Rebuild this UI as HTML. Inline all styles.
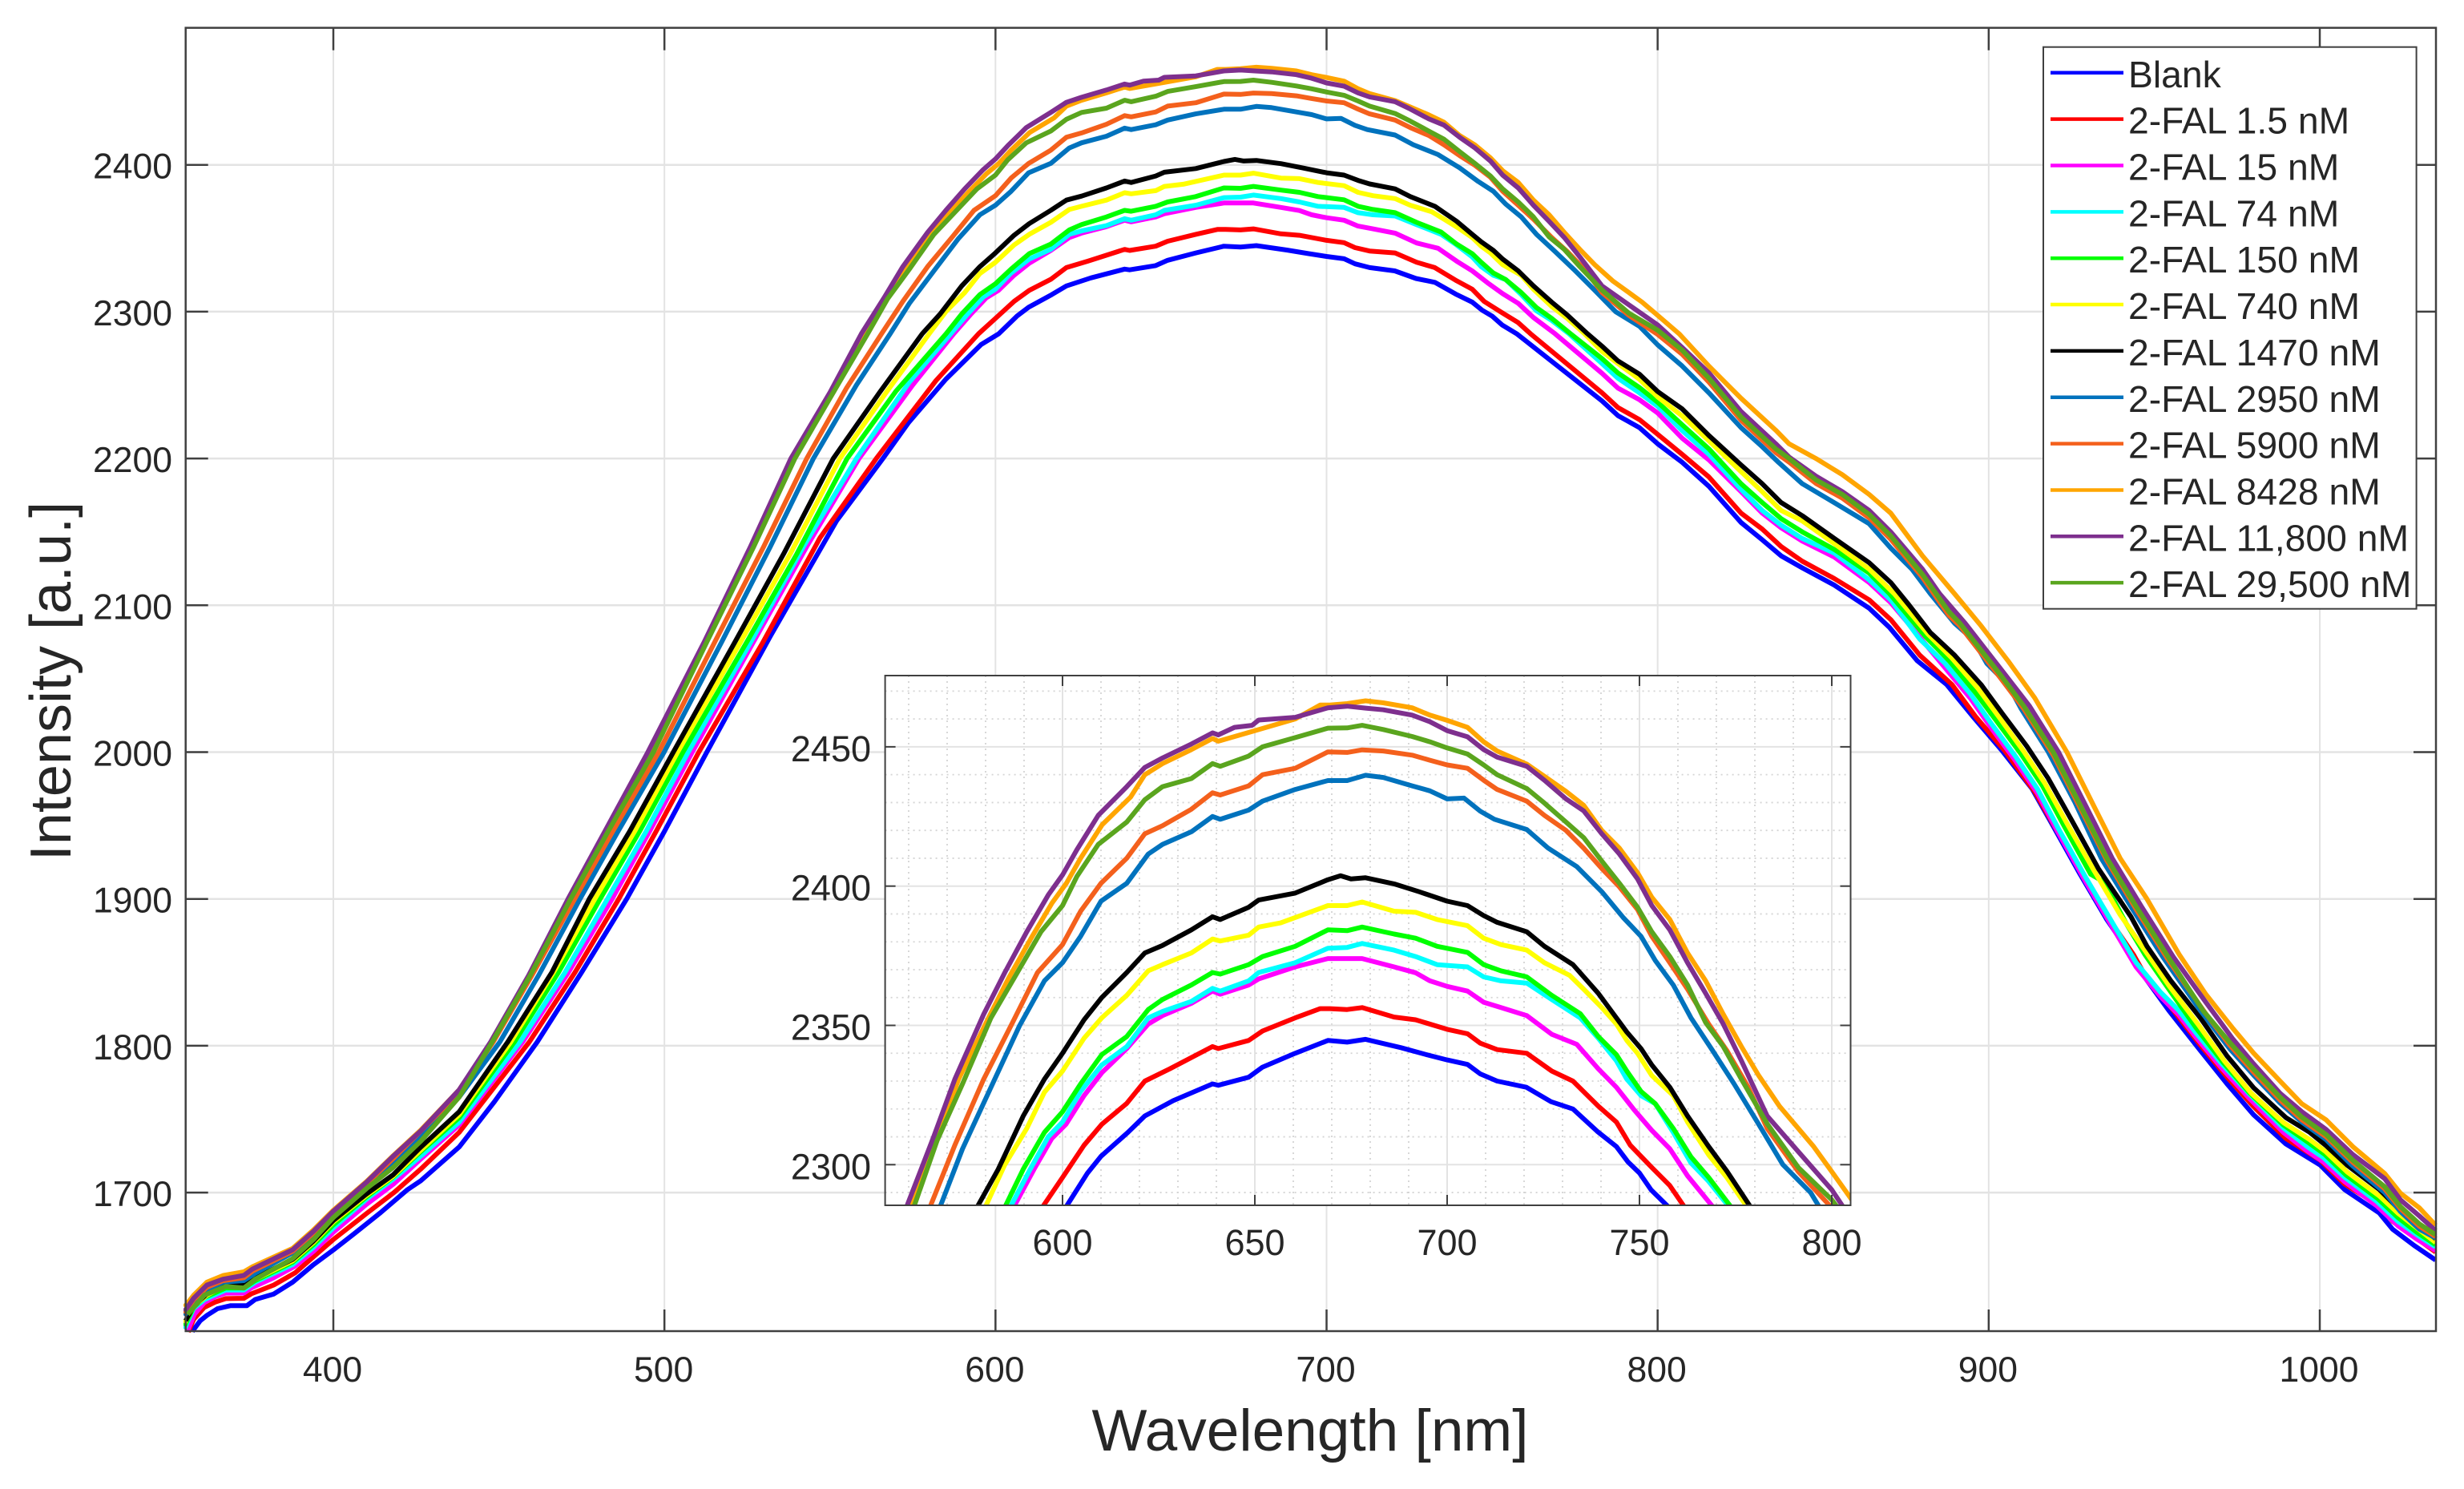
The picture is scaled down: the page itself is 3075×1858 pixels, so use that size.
<!DOCTYPE html>
<html lang="en">
<head>
<meta charset="utf-8">
<title>Intensity vs Wavelength</title>
<style>
html,body{margin:0;padding:0;background:#fff;width:3075px;height:1858px;overflow:hidden}
svg{display:block}
text{font-family:"Liberation Sans",Arial,sans-serif;fill:#262626}
</style>
</head>
<body>
<svg id="chart" xmlns="http://www.w3.org/2000/svg" width="3075" height="1858" viewBox="0 0 3075 1858">
<defs>
<clipPath id="main-clip"><rect x="229" y="34" width="2814" height="1630"></rect></clipPath>
<clipPath id="inset-clip"><rect x="1105" y="843" width="1205" height="661"></rect></clipPath>
</defs>
<rect x="0" y="0" width="3075" height="1858" fill="#fff"></rect>
<g id="main-grid"></g>
<g id="main-curves" clip-path="url(#main-clip)"></g>
<g id="main-axes"></g>
<text x="1635" y="1810" font-size="73" text-anchor="middle">Wavelength [nm]</text>
<text transform="translate(88,850) rotate(-90)" font-size="72" text-anchor="middle">Intensity [a.u.]</text>
<g id="inset"></g>
<g id="legend"></g>
</svg>
<script>
const seriesLabels = ["Blank","2-FAL 1.5 nM","2-FAL 15 nM","2-FAL 74 nM","2-FAL 150 nM","2-FAL 740 nM","2-FAL 1470 nM","2-FAL 2950 nM","2-FAL 5900 nM","2-FAL 8428 nM","2-FAL 11,800 nM","2-FAL 29,500 nM"];
const seriesColors = ["#0000ff","#ff0000","#ff00ff","#00ffff","#00ff00","#ffff00","#000000","#0072bd","#f4601c","#ffa500","#7e2f8e","#5aa51e"];
const mainXTicks = [400,500,600,700,800,900,1000];
const mainYTicks = [1700,1800,1900,2000,2100,2200,2300,2400];
const insetXTicks = [600,650,700,750,800];
const insetYTicks = [2300,2350,2400,2450];
const insetXMinor = [560,570,580,590,610,620,630,640,660,670,680,690,710,720,730,740,760,770,780,790];
const insetYMinor = [2290,2310,2320,2330,2340,2360,2370,2380,2390,2410,2420,2430,2440,2460,2470];

const blank = [[357.4,1605.4],[359.8,1612.7],[361.8,1616.3],[365,1620.9],[369,1623],[373.9,1623],[376.4,1627.2],[382,1630.9],[387.7,1639],[394,1650.9],[400,1660.9],[406.2,1671.8],[414.3,1686.4],[422.3,1701.8],[426.4,1708],[438,1731],[448.7,1762],[461.6,1802.6],[475,1850],[488.6,1900],[500,1946],[512.8,2000],[532,2079],[552,2157.5],[566,2200],[573.8,2224.6],[585,2254],[595.6,2277.5],[601,2285],[606.5,2297],[610,2303],[617,2311.6],[621.4,2317.5],[628.8,2323],[639,2329],[640.5,2328.5],[648.4,2331.4],[652,2335],[660.5,2340],[669,2344.6],[674,2344],[678.8,2345],[688,2342],[694.6,2339.5],[700,2337.6],[705.3,2336],[708.6,2332.6],[713,2330],[720.6,2327.8],[727,2322.6],[732.7,2320],[739,2312],[744,2306.5],[747,2301],[750,2297],[753,2291],[757.4,2285],[783.2,2239.2],[788,2229.2],[794.5,2221],[800,2210],[807.4,2197.4],[815.5,2181],[825.2,2156.4],[831.6,2144.6],[837.3,2133.7],[843.7,2125.5],[853.4,2113.7],[863.9,2098],[870,2085],[878.4,2062.3],[887.3,2046],[895.3,2024],[904.2,2000.5],[913.1,1975],[919.5,1949.5],[927.6,1916.8],[935.7,1885.8],[942.9,1862.2],[947.4,1845.8],[954.4,1824],[963.9,1796.8],[972,1774],[980,1753],[989.8,1733],[1000.2,1718.6],[1007.5,1702],[1018,1686],[1022,1675],[1028.5,1664],[1035,1654]];

const fal1p5 = [[356.2,1605],[357.8,1613.6],[361,1621.8],[364.3,1625.4],[367.5,1627.8],[373,1628],[375.2,1631],[382,1637],[388.5,1645.4],[394,1656.3],[400,1668],[410.2,1686],[418.3,1700],[426.4,1716],[438,1741],[459.2,1802.6],[473,1850],[486.2,1900],[497.5,1946],[510.4,2000],[529.8,2075],[547,2146],[564,2200],[582,2253],[594.9,2285],[600,2295.4],[605.6,2307],[610.2,2314.5],[616.7,2322],[621.4,2330],[627.9,2334.4],[639,2342.4],[640.5,2341.7],[648.4,2344.6],[652,2348],[660.5,2352.7],[667,2356],[669.5,2356],[674,2355.7],[677.9,2356.4],[686.2,2353],[691.8,2352],[700,2348.6],[705.3,2347],[708.6,2343.6],[713,2341.3],[720.7,2340],[727.2,2333.6],[732.7,2330],[739.3,2321],[744,2315.3],[747.6,2307],[753.2,2299],[757.9,2292.5],[761.6,2285],[783.2,2244.7],[788,2234.7],[794.5,2226.5],[800,2216.5],[807.4,2202.8],[815.5,2187.4],[825.2,2162.8],[831.6,2151.9],[837.3,2140],[843.7,2130],[853.4,2118.2],[863.9,2103.7],[870.5,2090],[879.2,2066],[888.9,2046],[896.1,2024],[905,2000.5],[913.9,1973],[920.3,1947.7],[928.4,1916.8],[936.5,1885.8],[943.7,1862.2],[947.8,1845.8],[955.8,1824],[963.9,1800.5],[972,1778.6],[980,1758.6],[989.8,1736.8],[1000.2,1722],[1007.5,1705.8],[1018,1691],[1022,1680.4],[1027.7,1671.3],[1035,1659.5]];

const fal15 = [[356,1606],[358,1617],[361,1625],[364.3,1629],[367.5,1631.5],[373,1631.5],[375.2,1635],[382,1642],[388.5,1650],[394,1660],[400,1673],[410,1692],[418.3,1706],[426,1722],[438,1746],[457.2,1802.6],[471,1850],[484.2,1900],[495.5,1946],[508.4,2000],[526.9,2075],[543,2140],[558.8,2200],[575,2250],[587.4,2285],[592.6,2298.4],[597.2,2309.4],[600.9,2314.5],[605.6,2324.8],[610.2,2333],[616.7,2341.7],[622.3,2350.5],[626,2353.5],[633.5,2357.9],[639,2362.3],[641,2361.2],[648.4,2364.5],[651,2366.7],[660.5,2371],[669,2374],[673,2374],[677.9,2374],[686.2,2371],[691.8,2368.9],[695.5,2366],[700,2364],[705.3,2362.3],[709.5,2358.3],[714,2356.4],[720.7,2353.5],[727.2,2346.8],[733.7,2343.2],[739.3,2334.4],[744,2327.8],[748.6,2319.7],[753.2,2312.3],[757.9,2305.7],[762.5,2296],[769,2285],[783.2,2258],[788,2248],[794.5,2240],[800,2231],[807.4,2213.8],[815.5,2199],[825.2,2177.4],[831.6,2162.8],[837.3,2152.8],[843.7,2143.7],[853.4,2132.8],[863.9,2115.5],[870.4,2101.8],[875.2,2089],[886.8,2057.5],[894.5,2036.6],[901,2015.7],[908.2,1993.8],[914.7,1972],[921.1,1944.7],[929.2,1912],[937.3,1881],[944.5,1853.7],[951.8,1833.7],[957.4,1821],[962.3,1806.6],[970.4,1784.7],[978.5,1764.7],[989,1741],[996.2,1728.3],[1001,1721],[1007.5,1707.4],[1017.2,1691],[1023.6,1677.4],[1029.3,1668.3],[1035,1660.5]];

const fal74 = [[355,1607],[357.8,1621],[361,1627],[367.5,1633.6],[373,1633.6],[376.4,1639],[387.7,1651],[394,1662.7],[400,1676],[410,1695.5],[418,1709],[426,1724],[438,1748],[456.4,1802.6],[470,1850],[482.8,1900],[494.5,1946],[507.2,2000],[526.1,2075],[542,2140],[558,2200],[574,2252],[586.5,2285],[591.6,2298.4],[596.3,2310],[600,2315.3],[604.7,2326.3],[610.2,2335.8],[616.7,2342.4],[622.3,2352.7],[626,2355],[633.5,2358.6],[639,2363.3],[641,2362.3],[648.4,2366],[651,2369],[660.5,2372.5],[669,2377.7],[674,2378],[677.9,2379.4],[686.2,2377],[691.8,2374.7],[697.4,2371.8],[705.3,2371],[709.5,2367.4],[714,2366],[720.7,2365.2],[727.2,2359.3],[734.6,2352.7],[739.3,2345.4],[744,2337.3],[746.7,2330.7],[750.4,2324.8],[754.1,2321.9],[758.8,2311.6],[763.4,2300.6],[768,2294],[773.2,2285],[783.2,2264.7],[788,2254.7],[794.5,2244.7],[800,2235.6],[807.4,2219],[815.5,2202.8],[825.2,2179],[831.6,2164.6],[837.3,2154.6],[843.7,2145.5],[853.4,2135.5],[863.9,2117.3],[870.4,2103.7],[879.2,2076.9],[886.8,2060.5],[894.5,2039.6],[901,2018.7],[908.2,1996.8],[914.7,1975],[921.1,1947.7],[929.2,1915],[937.3,1884],[944.5,1856.7],[951.8,1836.7],[957.4,1824],[962.3,1809.6],[970.4,1787.7],[978.5,1767.7],[989,1744],[996.2,1731.3],[1001,1724],[1007.5,1710.4],[1017.2,1694],[1023.6,1680.4],[1029.3,1671.3],[1035,1663]];

const fal150 = [[355,1609],[357.8,1622],[361,1628.5],[367.5,1635],[373,1635],[376.4,1640],[387.7,1652.5],[394,1664.5],[400,1678],[410,1697],[418,1710.5],[426,1727],[438,1751],[454.7,1802.6],[468,1850],[480.6,1900],[492.5,1946],[505.6,2000],[524.9,2075],[540,2135],[555.2,2200],[570,2246],[585.1,2285],[589.8,2298.4],[595.3,2311.6],[600,2319],[604.7,2329],[610.2,2339.5],[616.7,2346],[622.3,2355.7],[626,2359.3],[633.5,2364.5],[639,2369],[641,2368.4],[648.4,2371.8],[652,2374.7],[660.5,2378.4],[669,2384.3],[674,2384],[677.9,2385.3],[686.2,2382.8],[691.8,2381.3],[697.4,2378.4],[705.3,2376.2],[709.5,2371.8],[714,2369.6],[720.7,2367.4],[727.2,2360.8],[734.6,2354.2],[739.3,2346],[744,2339.5],[746.7,2333.6],[750.4,2326.3],[754.1,2321.9],[758.8,2313],[763.4,2302.8],[768,2295.4],[773.7,2285],[783.2,2268],[788,2258.3],[794.5,2248.3],[800,2238.3],[807.4,2222.9],[815.5,2206.5],[825.2,2182.8],[831.6,2170],[837.3,2159],[843.7,2150],[853.4,2138],[863.9,2121.9],[870,2108],[880.9,2078.7],[888,2062.3],[896,2040.5],[902.6,2020.5],[909.8,1998.7],[916.3,1976.8],[922.8,1949.5],[930.8,1916.8],[934.9,1911.5],[941.6,1883],[947.2,1862],[953.8,1840.5],[962.7,1812],[970.8,1788.6],[978.9,1767.7],[989,1746],[996.6,1734],[1001.5,1726],[1007.9,1712],[1017.6,1695.8],[1023.6,1683],[1029.3,1673],[1035,1664.4]];

const fal740 = [[355,1611],[357.8,1622.5],[361.8,1630],[366.7,1636],[373,1637],[376.4,1641],[387.7,1653.5],[394,1666],[400,1680],[410,1698],[418,1711],[426,1728],[438,1753],[453.6,1802.6],[466.5,1850],[479,1900],[491,1946],[504,2000],[523,2075],[538,2135],[553,2200],[567,2245],[580,2285],[585,2300],[590.7,2313],[595.3,2326],[600,2333.6],[605.6,2345.4],[610.2,2352.7],[616.7,2360.8],[622.3,2369.6],[626,2371.8],[633.5,2376],[639,2381],[641,2380.3],[648.4,2382.4],[651,2385.3],[656.7,2386.8],[669,2393],[674,2393],[677.9,2394.3],[686.2,2391],[691.8,2390.6],[697.4,2388],[705.3,2385.8],[709.5,2381.3],[714,2379],[720.7,2377],[725.3,2372.5],[731.8,2368],[735.5,2363],[740.2,2356.4],[744,2350.5],[746.7,2344.6],[749.5,2340],[753.2,2332],[758.8,2324.8],[762.5,2315.3],[768,2303.5],[772.7,2295.4],[777.9,2285],[783.2,2272.9],[788,2264.7],[794.5,2254],[800,2242],[807.4,2229],[815.5,2212],[825.2,2191],[831.6,2177.4],[837.3,2164.6],[843.7,2157.4],[853.4,2142],[863.9,2124.6],[871.5,2107.8],[881.6,2080.5],[888.9,2064],[896.9,2043],[903.4,2023],[910.6,2000.5],[917,1978.6],[923.9,1950.4],[932,1918.6],[939.6,1889.5],[947.8,1863],[954.6,1840.5],[963.1,1815],[971.2,1789.6],[979.3,1767.7],[989,1747.7],[997,1736],[1001.9,1727.7],[1008.3,1714],[1018,1697.7],[1023.6,1686],[1029.3,1676],[1035,1666]];

const fal1470 = [[355.4,1612.7],[357.8,1622.7],[361.8,1630.9],[366.7,1637],[373,1638],[376.4,1641.8],[387.7,1654.5],[394,1667],[400,1681],[410,1699],[418,1712],[426,1730],[438,1755],[452.7,1802.6],[466,1850],[477.3,1900],[489.5,1946],[502.7,2000],[521.3,2075],[536,2135],[551,2200],[565,2245],[577.9,2285],[583.3,2298.4],[589.8,2317.5],[595.3,2330.7],[600,2340],[605.6,2352],[610.2,2360],[616.7,2369],[621.4,2376],[626,2378.7],[633.5,2384.3],[639,2389],[641,2388],[648.4,2392.4],[651,2395],[660.5,2397.5],[669,2402.3],[672.3,2403.7],[675,2402.6],[678.8,2403],[686.2,2400.8],[692.7,2398],[700,2394.6],[705.3,2393],[709.5,2389.4],[713,2387],[720.7,2383.6],[725.3,2378.4],[732.7,2371.8],[739.3,2361.5],[744,2352.7],[746.7,2347.6],[750.4,2341.7],[753.2,2335.8],[757.9,2327.8],[762.5,2317.5],[768,2306.5],[772.7,2297.7],[778.8,2285],[783.2,2276.5],[788,2266.5],[794.5,2257.4],[800,2245.6],[807.4,2233.8],[815.5,2215.6],[825.2,2195.6],[831.6,2182.8],[837.3,2170],[843.7,2161],[853.4,2145.5],[863.9,2129],[870.4,2115.5],[876,2100],[882.4,2081.4],[889.7,2066],[897.7,2046],[904.2,2026],[911.5,2004],[917.9,1982.3],[925.2,1953],[933.2,1920.4],[943,1887.8],[947.8,1867.8],[955.1,1844],[964,1818.7],[972,1793],[980,1771.4],[989.8,1751],[997,1741],[1001.9,1732],[1008.3,1718.6],[1018,1702],[1023.6,1689.5],[1029.3,1678.6],[1035,1668.6]];

const fal2950 = [[355,1616],[357.8,1626],[361.8,1634],[366.7,1639],[373,1640],[376.4,1645],[387.7,1659],[394,1671],[400,1685],[410,1704],[418,1719],[426,1738],[438,1765],[450.3,1802.6],[462,1848],[474.5,1900],[486,1946],[499.9,2000],[517.3,2075],[532,2140],[545,2200],[558,2250],[568.2,2285],[574,2305.7],[581.4,2327.8],[588.8,2349.8],[595.3,2366],[600,2372.5],[604.7,2382],[610,2394.6],[616.7,2401],[622.3,2411.5],[626,2415],[633.5,2419.5],[639,2425],[641,2424],[648.4,2427.3],[652,2430.5],[660.5,2434.7],[669,2437.9],[674,2437.9],[678.8,2439.8],[683.4,2439],[690.9,2436],[695.5,2434.2],[700,2431.3],[704.4,2431.6],[708.6,2426.9],[712.3,2424],[720.7,2420.3],[726.2,2413.7],[733.7,2407],[740.2,2398],[745.8,2388.7],[750.4,2382],[754.1,2373.3],[758.8,2364.5],[763.4,2352.7],[769,2341],[774.6,2329],[781,2314.5],[787.3,2300],[794.5,2290],[800,2277.4],[807.4,2263],[815.5,2244.7],[825.2,2221],[831.6,2208],[836.5,2197.4],[843.7,2182.8],[851.8,2172],[859.9,2161],[863.9,2155.5],[870.4,2139],[876.8,2124.6],[882.4,2107.8],[889.7,2087.8],[895.4,2076.4],[899.4,2060.5],[905.8,2046],[909.8,2029.6],[917.9,2000.5],[926,1966],[934,1927.7],[942.9,1895],[952.6,1860.4],[963.9,1824],[972.8,1798],[980,1780],[988,1761],[994.6,1748],[1001.9,1736],[1010,1718],[1019.6,1700],[1024.4,1687],[1030.1,1675],[1035,1669]];

const fal5900 = [[355,1617.5],[357.8,1627],[361.8,1635.5],[366.7,1640],[373,1642],[375.6,1646.5],[387.7,1660],[394,1672.5],[400,1686.3],[410,1706],[418,1723],[426,1741],[438,1768],[448.3,1802.6],[460,1848],[472.9,1900],[484.4,1946],[498.3,2000],[515.2,2075],[530,2140],[543,2200],[555,2248],[565.6,2285],[572,2307],[579.5,2330.7],[587,2351],[593.5,2369],[600,2379],[604.7,2391],[610,2401],[616.7,2410],[621.4,2418.8],[626,2421.7],[633.5,2427.6],[639,2433.5],[641,2432.7],[648.4,2436],[652,2440],[660.5,2442.3],[669,2448.2],[674,2448],[677.9,2448.9],[683.4,2448.5],[690.9,2447],[695.5,2445.2],[700,2443.5],[705.3,2442.3],[709.5,2438],[713,2434.7],[720.7,2430.5],[725.3,2425.4],[730.9,2420],[735.5,2413.6],[740.2,2406.3],[744.8,2399.7],[749.5,2391.6],[753.2,2382],[757.9,2372.5],[762.5,2363],[768,2350.5],[772.7,2341],[778.3,2327.8],[783.2,2313],[791.3,2297.5],[800,2284.5],[807.4,2271],[815.5,2252],[825.2,2226],[835.7,2204],[839.7,2197.5],[847.8,2183],[855.8,2173],[863.9,2159.5],[870.4,2145],[880,2119],[888,2093],[891.3,2086],[903.4,2051],[910.6,2029.5],[919.5,1998],[927.6,1962],[935.7,1926],[944.5,1893],[954.2,1858.5],[965.5,1822],[972.8,1800.5],[980,1782],[988,1763],[994.6,1749.5],[1001.9,1738],[1010,1720.5],[1019.6,1702.5],[1024.4,1689],[1030.1,1677],[1035,1670]];

const fal8428 = [[355,1622],[357.8,1630],[361.8,1639],[366.7,1643.5],[373,1646],[375.6,1649.5],[387.7,1662],[394,1674.5],[400,1688],[410,1707.5],[418,1725],[426.4,1742.5],[438,1770],[447.8,1802.6],[459.3,1848],[471.2,1900],[482.5,1946],[495.5,2000],[512.5,2075],[526.5,2140],[539,2200],[551,2245],[560.5,2285],[567.5,2310],[573,2330.7],[580.5,2352],[586,2367],[591.7,2381],[597.3,2394],[601,2401],[604.7,2410],[610.3,2422],[617.7,2432],[621.4,2440],[626,2444],[633.5,2449],[639,2453],[640.5,2452],[649.3,2455.5],[660.5,2460],[667,2465],[669.5,2465],[674,2465.5],[678.8,2466.5],[683.4,2465.8],[690.9,2464],[695.5,2461.4],[700,2459.5],[705.3,2457],[709.5,2451.8],[713,2448.5],[720.7,2443.8],[725.3,2439.4],[730.9,2434],[735.5,2429],[740.2,2420],[744.8,2413.6],[749.5,2404.8],[753.2,2396],[757.9,2388],[762.5,2376],[767.2,2366],[771.8,2354],[776.5,2342.4],[781,2332],[786.4,2321],[795.3,2306.5],[800,2297.5],[806.6,2284.7],[815.5,2262.9],[825.2,2241],[835.7,2219.2],[839.7,2210],[847.8,2200],[855.8,2189],[863.9,2175.5],[870.4,2162.8],[880,2133.7],[889.7,2107.8],[897.7,2086],[905.8,2062.3],[913.9,2036.9],[923.6,2000],[931.6,1964],[939.7,1927.7],[947.8,1900],[957.5,1862.3],[965.6,1835],[973.6,1812.3],[980,1795],[988,1776],[994.6,1760.4],[1001.9,1749.5],[1010,1731.3],[1019.6,1713],[1024.4,1699.5],[1030.1,1689.5],[1035,1677.7]];

const fal11800 = [[355,1619],[357.8,1628],[361.8,1637],[366.7,1641],[373,1643.6],[375.6,1648],[387.7,1661],[394,1673.6],[400,1687.3],[410,1707],[418,1724.6],[426.4,1742],[438,1770],[447.5,1802.6],[459,1848],[470.9,1900],[482,1946],[495,2000],[512,2075],[526,2140],[538.2,2200],[550,2245],[559.5,2285],[566.5,2310],[572,2330.7],[579.5,2354],[585,2369],[590.7,2383.6],[596.3,2396.8],[600,2404],[603.7,2413],[609.3,2425.4],[616.7,2435.7],[621.4,2442.6],[626,2446],[633.5,2451],[639,2455],[640.5,2454.3],[644.7,2457],[649.3,2457.7],[651,2459.6],[660.5,2460.6],[669,2464],[674,2464.6],[678.8,2463.9],[683.4,2463.3],[690.9,2461.4],[695.5,2459],[700,2455.8],[705.3,2453.6],[709.5,2449],[713,2446.3],[720.7,2443],[725.3,2438],[730.9,2431.3],[735.5,2427],[740.2,2418.8],[744.8,2411.5],[749.5,2402.6],[753.2,2393],[757.9,2384.3],[762.5,2372.5],[767.2,2361.5],[771.8,2350.5],[776.5,2337.3],[783.2,2317.5],[791.3,2304.7],[800,2291],[807.4,2275.6],[815.5,2258.3],[825.2,2232],[835.7,2210],[839.7,2201],[847.8,2188],[855.8,2177.4],[863.9,2164.6],[870.4,2150],[880,2124.6],[885.2,2107.8],[892.9,2087.8],[904.2,2055],[912.3,2031.4],[921.1,2000],[929.2,1964],[937.3,1927.7],[946.1,1895],[955.8,1860.4],[965.6,1829.6],[973.6,1805],[980,1787.7],[988,1767.7],[994.6,1755],[1001.9,1743],[1010,1725.9],[1019.6,1709.5],[1024.4,1695],[1030.1,1684],[1035,1674]];

const fal29500 = [[356,1617],[361,1630],[367.5,1636],[373,1635],[376.4,1641],[387.7,1655],[394,1668],[400,1683],[410,1702.7],[418,1717],[426.4,1735],[438,1765],[448,1802.6],[459.5,1848],[471.7,1900],[483,1946],[496.7,2000],[512.8,2075],[527,2140],[539.4,2200],[551,2245],[561.4,2285],[567.4,2308.7],[574,2329],[581.4,2352.7],[587,2366],[594.4,2383.6],[600,2393],[603.7,2403.4],[609.3,2415],[616.7,2423],[621.4,2431],[626,2435.7],[633.5,2438.6],[639,2444],[641,2443],[648.4,2446.7],[652,2450],[660.5,2453.3],[669,2456.7],[674,2456.8],[677.9,2457.7],[683.4,2456.2],[690.9,2453.7],[695.5,2451.8],[700,2449.6],[705.3,2447.4],[709.5,2443.5],[713,2440],[720.7,2435],[725.3,2429.8],[730.9,2423],[735.5,2417.4],[740.2,2409],[744.8,2401],[749.5,2392.4],[753.2,2383.6],[757.9,2374.7],[762.5,2364.5],[767.2,2351],[771.8,2342.4],[776.5,2330.7],[783.2,2314.7],[791.3,2299],[800,2287.4],[807.4,2273.8],[815.5,2254.7],[825.2,2228.3],[835.7,2206.5],[839.7,2200],[847.8,2185.5],[855.8,2175.5],[863.9,2161.9],[870.4,2147.3],[880,2121],[888,2095.5],[891.3,2087.8],[903.4,2053],[910.6,2031.4],[919.5,2000],[927.6,1964],[935.7,1927.7],[944.5,1895],[954.2,1860.4],[964.7,1824],[972.8,1802.3],[980,1784],[988,1765],[994.6,1751.3],[1001.9,1739.5],[1010,1722],[1019.6,1704],[1024.4,1690.4],[1030.1,1678.6],[1035,1671.3]];

const allSeries = [blank,fal1p5,fal15,fal74,fal150,fal740,fal1470,fal2950,fal5900,fal8428,fal11800,fal29500];
const insetFloor = 2200;

const NS = 'http://www.w3.org/2000/svg';
const INK = '#404040';
const GRID = '#e3e3e3';
const mainBox = {l:231.7,r:3040,t:34.7,b:1661};
const insetBox = {l:1104.6,r:2309.5,t:843,b:1504};
function mainX(nm){return 416+(nm-400)*4.1317;}
function mainY(v){return 205.7+(2400-v)*1.832;}
function insetX(nm){return 1326+(nm-600)*4.8;}
function insetY(v){return 1105.7+(2400-v)*3.476;}
function slug(s){return s.toLowerCase().replace(/[^a-z0-9]+/g,'-').replace(/-+$/,'');}
function node(tag,parent){const n=document.createElementNS(NS,tag);parent.appendChild(n);return n;}
function setLine(n,x1,y1,x2,y2,color,w){n.setAttribute('x1',x1);n.setAttribute('y1',y1);n.setAttribute('x2',x2);n.setAttribute('y2',y2);n.setAttribute('stroke',color);n.setAttribute('stroke-width',w);}
function setLabel(n,x,y,size,anchor,str){n.setAttribute('x',x);n.setAttribute('y',y);n.setAttribute('font-size',size);n.setAttribute('text-anchor',anchor);n.textContent=str;}

const mainGrid = document.getElementById('main-grid');
const mainCurves = document.getElementById('main-curves');
const mainAxes = document.getElementById('main-axes');
const inset = document.getElementById('inset');
const legend = document.getElementById('legend');

mainXTicks.forEach(function(t){
  const g = node('line',mainGrid);
  
  
  setLine(g,mainX(t),mainBox.t,mainX(t),mainBox.b,GRID,2);
});
mainYTicks.forEach(function(t){
  const g = node('line',mainGrid);
  
  
  setLine(g,mainBox.l,mainY(t),mainBox.r,mainY(t),GRID,2.5);
});

allSeries.forEach(function(points,i){
  const p = node('polyline',mainCurves);
  
  
  p.setAttribute('points',points.map(function(d){return mainX(d[0]).toFixed(1)+','+mainY(d[1]).toFixed(1);}).join(' '));
  p.setAttribute('fill','none');
  p.setAttribute('stroke',seriesColors[i]);
  p.setAttribute('stroke-width',6);
  p.setAttribute('stroke-linejoin','round');
});

const mainFrame = node('rect',mainAxes);


mainFrame.setAttribute('x',mainBox.l);
mainFrame.setAttribute('y',mainBox.t);
mainFrame.setAttribute('width',mainBox.r-mainBox.l);
mainFrame.setAttribute('height',mainBox.b-mainBox.t);
mainFrame.setAttribute('fill','none');
mainFrame.setAttribute('stroke',INK);
mainFrame.setAttribute('stroke-width',2.5);

mainXTicks.forEach(function(t){
  const a = node('line',mainAxes);
  
  
  setLine(a,mainX(t),mainBox.b,mainX(t),mainBox.b-27,INK,2.5);
  const b = node('line',mainAxes);
  
  
  setLine(b,mainX(t),mainBox.t,mainX(t),mainBox.t+28,INK,2.5);
  const lab = node('text',mainAxes);
  
  
  setLabel(lab,mainX(t)-1,1724,44.5,'middle',String(t));
});
mainYTicks.forEach(function(t){
  const a = node('line',mainAxes);
  
  
  setLine(a,mainBox.l,mainY(t),mainBox.l+28,mainY(t),INK,2.5);
  const b = node('line',mainAxes);
  
  
  setLine(b,mainBox.r,mainY(t),mainBox.r-28,mainY(t),INK,2.5);
  const lab = node('text',mainAxes);
  
  
  setLabel(lab,215,mainY(t)+17,44.5,'end',String(t));
});

const insetBg = node('rect',inset);


insetBg.setAttribute('x',insetBox.l);
insetBg.setAttribute('y',insetBox.t);
insetBg.setAttribute('width',insetBox.r-insetBox.l);
insetBg.setAttribute('height',insetBox.b-insetBox.t);
insetBg.setAttribute('fill','#fff');

insetXMinor.forEach(function(t){
  const g = node('line',inset);
  
  
  setLine(g,insetX(t),insetBox.t,insetX(t),insetBox.b,'#d4d4d4',1.8);
  g.setAttribute('stroke-dasharray','2 5');
});
insetYMinor.forEach(function(t){
  const g = node('line',inset);
  
  
  setLine(g,insetBox.l,insetY(t),insetBox.r,insetY(t),'#d4d4d4',1.8);
  g.setAttribute('stroke-dasharray','2 5');
});
insetXTicks.forEach(function(t){
  const g = node('line',inset);
  
  
  setLine(g,insetX(t),insetBox.t,insetX(t),insetBox.b,GRID,2);
});
insetYTicks.forEach(function(t){
  const g = node('line',inset);
  
  
  setLine(g,insetBox.l,insetY(t),insetBox.r,insetY(t),GRID,2);
});

const insetCurves = node('g',inset);


insetCurves.setAttribute('clip-path','url(#inset-clip)');
allSeries.forEach(function(points,i){
  const p = node('polyline',insetCurves);
  
  
  const visible = points.filter(function(d){return d[1]>=insetFloor;});
  p.setAttribute('points',visible.map(function(d){return insetX(d[0]).toFixed(1)+','+insetY(d[1]).toFixed(1);}).join(' '));
  p.setAttribute('fill','none');
  p.setAttribute('stroke',seriesColors[i]);
  p.setAttribute('stroke-width',6);
  p.setAttribute('stroke-linejoin','round');
});

const insetFrame = node('rect',inset);


insetFrame.setAttribute('x',insetBox.l);
insetFrame.setAttribute('y',insetBox.t);
insetFrame.setAttribute('width',insetBox.r-insetBox.l);
insetFrame.setAttribute('height',insetBox.b-insetBox.t);
insetFrame.setAttribute('fill','none');
insetFrame.setAttribute('stroke',INK);
insetFrame.setAttribute('stroke-width',2);

insetXTicks.forEach(function(t){
  const a = node('line',inset);
  
  
  setLine(a,insetX(t),insetBox.b,insetX(t),insetBox.b-13,INK,2);
  const b = node('line',inset);
  
  
  setLine(b,insetX(t),insetBox.t,insetX(t),insetBox.t+13,INK,2);
  const lab = node('text',inset);
  
  
  setLabel(lab,insetX(t),1566,45,'middle',String(t));
});
insetYTicks.forEach(function(t){
  const a = node('line',inset);
  
  
  setLine(a,insetBox.l,insetY(t),insetBox.l+13,insetY(t),INK,2);
  const b = node('line',inset);
  
  
  setLine(b,insetBox.r,insetY(t),insetBox.r-13,insetY(t),INK,2);
  const lab = node('text',inset);
  
  
  setLabel(lab,1087,insetY(t)+18,45,'end',String(t));
});

const legendBox = node('rect',legend);


legendBox.setAttribute('x',2550);
legendBox.setAttribute('y',58.7);
legendBox.setAttribute('width',465.6);
legendBox.setAttribute('height',701);
legendBox.setAttribute('fill','#fff');
legendBox.setAttribute('stroke',INK);
legendBox.setAttribute('stroke-width',2);
seriesLabels.forEach(function(label,i){
  const rowY = 90.8+i*57.85;
  const swatch = node('line',legend);
  
  
  setLine(swatch,2559,rowY,2650,rowY,seriesColors[i],4.5);
  const txt = node('text',legend);
  
  
  setLabel(txt,2656,rowY+18,46.3,'start',label);
  txt.setAttribute('fill','#111');
});
</script>
</body>
</html>
